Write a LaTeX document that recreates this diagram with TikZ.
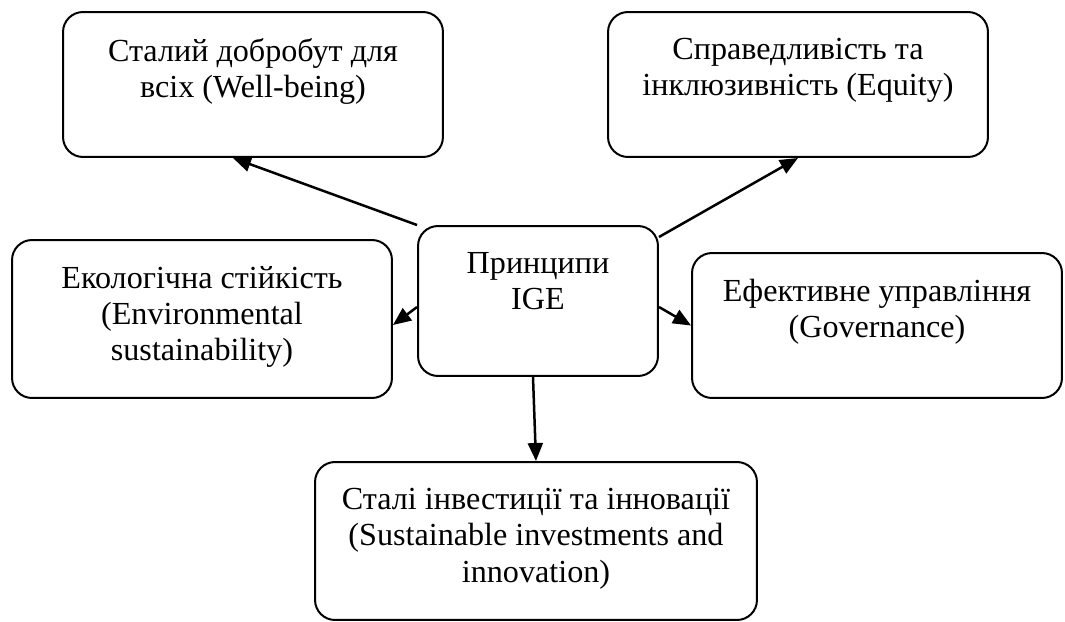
\documentclass[tikz,border=0pt]{standalone}
\usepackage{fontspec}
\setmainfont{Liberation Serif}
\usepackage{tikz}
\usetikzlibrary{arrows.meta}
\tikzset{
BOX/.style ={draw=black,line width=0.4mm,rounded corners=0.4cm,inner sep=0pt},
TXT/.style ={align=center,inner sep=0pt,anchor=north,font=\fontsize{18.3}{20.6}\selectfont},
LINK/.style ={draw=black,line width=0.5mm,-{Triangle[length=0.36cm,width=0.3cm]}},
}
\begin{document}
\begin{tikzpicture}
[x=0.02cm,y=-0.02cm]
	\useasboundingbox (0,0) rectangle (1065,622);
	%Boxes
	\node[BOX,minimum width=7.6cm,minimum height=2.9cm] (wb) at (253,84.5) {};
	\node[BOX,minimum width=7.6cm,minimum height=2.9cm] (eq) at (798,84.5) {};
	\node[BOX,minimum width=7.6cm,minimum height=3.16cm] (env) at (202,319) {};
	\node[BOX,minimum width=4.8cm,minimum height=3.0cm] (ctr) at (538,301) {};
	\node[BOX,minimum width=7.4cm,minimum height=2.9cm] (gov) at (877,325.5) {};
	\node[BOX,minimum width=8.84cm,minimum height=3.16cm] (inv) at (536,541) {};
	%Labels
	\node[TXT,yshift=-0.54cm] (wb-t) at (wb.north) {Сталий добробут для\\всіх (Well-being)};
	\node[TXT,yshift=-0.54cm] (eq-t) at (eq.north) {Справедливість та\\інклюзивність (Equity)};
	\node[TXT,yshift=-0.54cm] (env-t) at (env.north) {Екологічна стійкість\\(Environmental\\sustainability)};
	\node[TXT,yshift=-0.54cm] (ctr-t) at (ctr.north) {Принципи\\IGE};
	\node[TXT,yshift=-0.54cm] (gov-t) at (gov.north) {Ефективне управління\\(Governance)};
	\node[TXT,yshift=-0.54cm] (inv-t) at (inv.north) {Сталі інвестиції та інновації\\(Sustainable investments and\\innovation)};
	%Arrows
	\draw[LINK] (ctr.north west) -- ([xshift=-0.4cm]wb.south);
	\draw[LINK] ([yshift=-0.24cm]ctr.north east) -- (eq.south);
	\draw[LINK] ([yshift=-0.12cm]ctr.west) -- ([yshift=-0.12cm]env.east);
	\draw[LINK] ([yshift=-0.12cm]ctr.east) -- (gov.west);
	\draw[LINK] ([xshift=-0.1cm]ctr.south) -- (inv.north);
\end{tikzpicture}
\end{document}
